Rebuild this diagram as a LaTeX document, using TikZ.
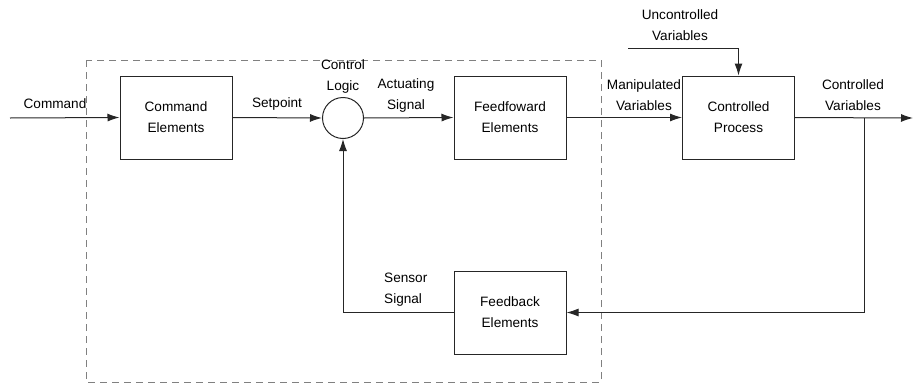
\documentclass[tikz,border=0pt]{standalone}
\usepackage{fontspec}
\setmainfont{Liberation Sans}
\usetikzlibrary{arrows.meta}
\begin{document}
\begin{tikzpicture}[x=1pt,y=-1pt,
  blk/.style={draw=black!85, line width=1pt, minimum width=112pt, minimum height=83pt, align=center, inner sep=0pt, font=\fontsize{13.6}{21}\selectfont},
  sumnode/.style={draw=black!85, line width=1pt, circle, minimum size=41pt, inner sep=0pt},
  lbl/.style={align=center, font=\fontsize{13.6}{21}\selectfont, inner sep=0pt},
  wire/.style={draw=black!85, line width=1pt, -{Latex[length=12pt,width=8pt]}},
  ]
\useasboundingbox (0,0) rectangle (913,391);
\draw[gray, line width=1pt, dash pattern=on 7pt off 5pt] (86,60) rectangle (601,382);

\node[blk] (cmd) at (176,117.5) {Command\\Elements};
\node[sumnode] (sum) at (343,118) {};
\node[blk] (ff) at (510,117.5) {Feedfoward\\Elements};
\node[blk] (proc) at (738.5,117.5) {Controlled\\Process};
\node[blk] (fb) at (510,312.5) {Feedback\\Elements};

\coordinate (in) at (10,118);
\coordinate (unc) at (628,48);
\coordinate (out) at (913,118);
\coordinate (br) at (864,118);

\draw[wire] (in) -- (cmd.west);
\draw[wire] (cmd.east) -- (sum.west);
\draw[wire] (sum.east) -- (ff.west);
\draw[wire] (ff.east) -- (proc.west);
\draw[wire] (unc) -| (proc.north);
\draw[wire] (proc.east) -- (out);
\draw[wire] (br) |- (fb.east);
\draw[wire] (fb.west) -| (sum.south);

\node[lbl] (lcmd) at (55,104) {Command};
\node[lbl] (lset) at (277,104) {Setpoint};
\node[lbl] (lctl) at (343,76) {Control\\Logic};
\node[lbl] (lact) at (406,95.5) {Actuating\\Signal};
\node[lbl] (lman) at (644,95.5) {Manipulated\\Variables};
\node[lbl] (lunc) at (680,25.5) {Uncontrolled\\Variables};
\node[lbl] (lcv) at (853,95.5) {Controlled\\Variables};
\node[lbl, align=left, anchor=west] (lsen) at (384,290) {Sensor\\Signal};
\end{tikzpicture}
\end{document}
